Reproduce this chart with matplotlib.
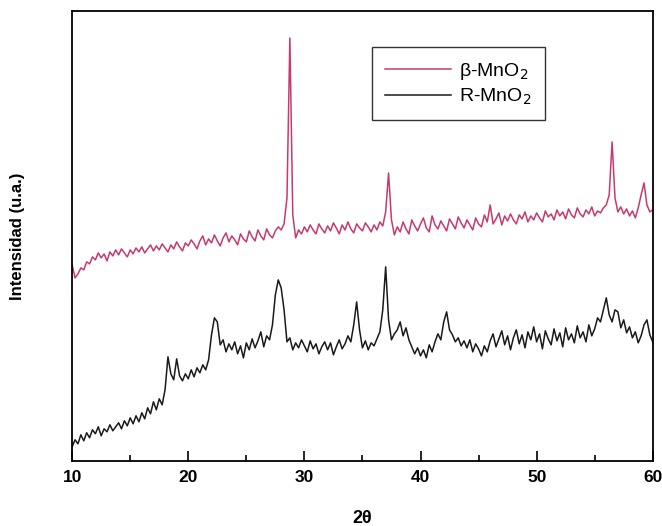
import numpy as np
import matplotlib.pyplot as plt

# intensities, 2theta = 10..60 in steps of 0.25
beta = [195, 182, 186, 192, 190, 198, 196, 203,
        200, 207, 202, 206, 199, 208, 204, 210,
        205, 211, 207, 203, 210, 206, 212, 208,
        213, 207, 211, 215, 209, 214, 210, 216,
        212, 208, 215, 211, 218, 213, 209, 217,
        214, 220, 216, 211, 219, 224, 215, 221,
        217, 225, 219, 214, 222, 227, 218, 224,
        220, 215, 226, 221, 218, 229, 223, 219,
        230, 224, 220, 231, 225, 222, 229, 233,
        230, 236, 262, 422, 245, 222, 230, 226,
        233, 228, 235, 230, 226, 236, 231, 227,
        234, 229, 237, 232, 226, 235, 230, 238,
        231, 227, 236, 232, 229, 237, 233, 228,
        235, 230, 238, 234, 248, 287, 240, 225,
        233, 228, 238, 231, 226, 240, 234, 229,
        236, 242, 232, 228, 244, 235, 231, 239,
        234, 229, 241, 236, 231, 243, 237, 232,
        240, 235, 230, 242, 236, 233, 245, 238,
        255, 236, 241, 247, 235, 244, 239, 246,
        240, 236, 245, 241, 248, 238, 244, 240,
        247, 242, 238, 249, 243, 246, 240, 250,
        244, 248, 241, 251, 245, 242, 252, 246,
        243, 250, 246, 253, 244, 249, 247, 252,
        255, 265, 318, 262, 248, 253, 246, 251,
        244, 249, 242, 252, 265, 277, 255, 248,
        250]

rmno2 = [13, 20, 16, 25, 19, 27, 22, 30,
         26, 33, 24, 31, 28, 35, 29, 33,
         37, 31, 39, 34, 42, 36, 44, 38,
         47, 41, 52, 46, 58, 50, 61, 55,
         70, 103, 86, 80, 101, 84, 79, 86,
         81, 90, 83, 92, 87, 95, 90, 100,
         125, 142, 138, 115, 120, 108, 116, 110,
         118, 106, 114, 102, 117, 110, 121, 112,
         119, 128, 113, 124, 120, 135, 165, 180,
         172, 150, 118, 122, 110, 117, 112, 120,
         114, 108, 119, 111, 116, 106, 113, 118,
         110, 117, 105, 113, 120, 111, 116, 124,
         118, 135, 158, 130, 112, 119, 110, 117,
         114, 121, 128, 150, 193, 140, 120, 126,
         130, 138, 124, 132, 120, 113, 106, 112,
         104, 110, 102, 115, 108, 118, 126, 120,
         138, 148, 130, 125, 118, 122, 114, 119,
         112, 120, 108, 116, 111, 104, 114, 108,
         119, 126, 113, 121, 129, 115, 124, 110,
         122, 130, 116, 125, 112, 128, 120, 133,
         118, 126, 111, 129, 121, 115, 131, 119,
         127, 113, 132, 120, 126, 117, 134, 122,
         128, 118, 135, 124, 131, 142, 138, 150,
         162, 145, 138, 150, 148, 132, 140, 127,
         133, 122, 128, 117, 124, 135, 140, 125,
         118]

x = np.linspace(10, 60, len(beta))

plt.rcParams['font.family'] = ['Liberation Sans', 'DejaVu Sans']

fig = plt.figure(figsize=(6.62, 5.26), dpi=100)
ax = fig.add_axes([0.109, 0.124, 0.877, 0.855])

ax.plot(x, beta, color="#c73a6e", lw=1.1, label=r"β-MnO$_2$")
ax.plot(x, rmno2, color="#1a1a1a", lw=1.1, label=r"R-MnO$_2$")

ax.set_xlim(10, 60)
ax.set_ylim(-1, 449)
ax.set_xticks([10, 20, 30, 40, 50, 60])
ax.set_xticks([15, 25, 35, 45, 55], minor=True)
ax.set_yticks([])
ax.tick_params(axis="x", which="major", direction="in", length=7, width=1.2,
               labelsize=12.5, pad=7)
ax.tick_params(axis="x", which="minor", direction="in", length=4, width=1.2)
for lab in ax.get_xticklabels():
    lab.set_fontweight("bold")
for s in ax.spines.values():
    s.set_linewidth(1.3)

ax.set_xlabel("2θ", fontsize=13, fontweight="bold", labelpad=18)
ax.set_ylabel("Intensidad (u.a.)", fontsize=12, fontweight="bold", labelpad=34)

leg = ax.legend(loc="upper left", bbox_to_anchor=(0.516, 0.92), fontsize=14,
                frameon=True, fancybox=False, edgecolor="black", handlelength=3.4,
                borderpad=0.7, labelspacing=0.25, handletextpad=0.4,
                borderaxespad=0)
leg.get_frame().set_linewidth(1.0)

fig.savefig("out.png", dpi=100)
